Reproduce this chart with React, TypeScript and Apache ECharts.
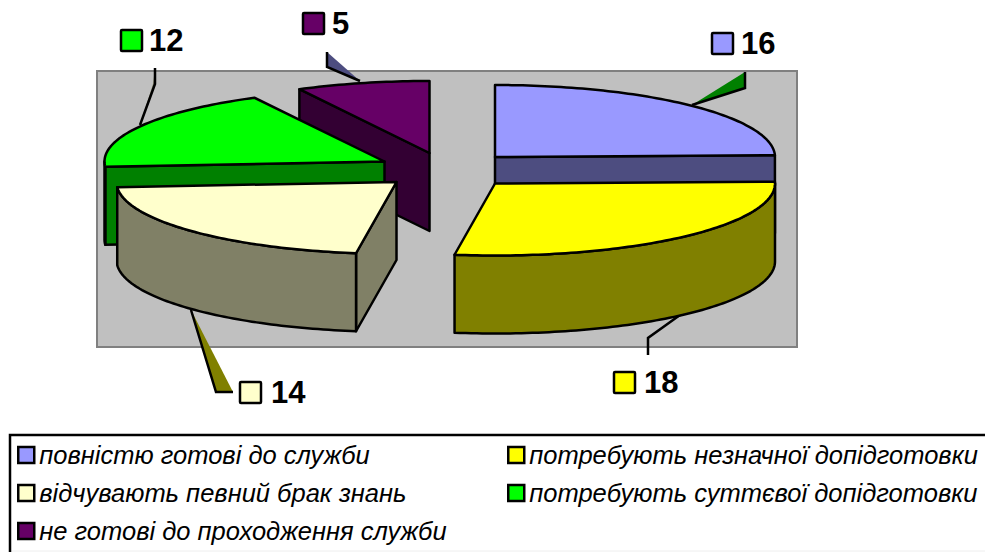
import React, { useEffect, useRef } from "react";
import * as echarts from "echarts";

const categories = [
  "повністю готові до служби",
  "потребують незначної допідготовки",
  "відчувають певний брак знань",
  "потребують суттєвої допідготовки",
  "не готові до проходження служби",
];
const values = [16, 18, 14, 12, 5];
const topColors = ["#9999FF", "#FFFF00", "#FFFFCC", "#00FF00", "#660066"];
const sideColors = ["#4D4D80", "#808000", "#808066", "#008000", "#330033"];

// layout only
const RX = 280, RY = 72, DEPTH = 78;
const centers = [[495, 157], [495, 183.5], [396.5, 182], [384.5, 161.5], [429.5, 153]];
const zOrder = [4, 5, 6, 3, 2];
const swatches = [[712, 33], [614, 372], [240, 382], [121, 30], [303, 13]];
const labelX = [741, 644, 271, 149, 332];
const leaderFill = [
  { fill: "#008000", pts: [[692, 105], [745, 72], [745, 88]], line: [[692, 105], [745, 88], [745, 72]] },
  { fill: "none", pts: [[680, 315], [648, 338], [648, 355]], line: [[680, 315], [648, 338], [648, 355]] },
  { fill: "#808000", pts: [[191, 310], [233, 392], [216, 392]], line: [[191, 310], [216, 392], [233, 392]] },
  { fill: "#808066", pts: [[155, 68], [155, 84], [140, 125], [153, 84]], line: [[155, 68], [155, 84], [140, 125]] },
  { fill: "#4D4D80", pts: [[327, 52], [360, 81], [327, 67]], line: [[327, 52], [327, 67], [360, 81]] },
];
const FONT = "'Liberation Sans', Arial, sans-serif";

const total = values.reduce((a, b) => a + b, 0);
const startAngles: number[] = [];
values.reduce((acc, v, i) => {
  startAngles[i] = (acc / total) * Math.PI * 2;
  return acc + v;
}, 0);

function pt(i: number, a: number, dy = 0): number[] {
  const [cx, cy] = centers[i];
  return [cx + RX * Math.sin(a), cy - RY * Math.cos(a) + dy];
}
function arc(i: number, a0: number, a1: number, dy = 0): number[][] {
  const n = Math.max(2, Math.ceil(Math.abs(a1 - a0) / 0.02));
  const out: number[][] = [];
  for (let k = 0; k <= n; k++) out.push(pt(i, a0 + ((a1 - a0) * k) / n, dy));
  return out;
}

function makeRenderItem(i: number) {
  return (_params: any, api: any) => {
    const value = api.value(0);
    const a0 = startAngles[i];
    const a1 = a0 + (value / total) * Math.PI * 2;
    const [cx, cy] = centers[i];
    const edge = { stroke: "#000", lineWidth: 2.5, lineJoin: "round" };
    const children: any[] = [];

    const ld = leaderFill[i];
    children.push({ type: "polygon", shape: { points: ld.pts }, style: { fill: ld.fill } });
    children.push({ type: "polyline", shape: { points: ld.line }, style: { stroke: "#000", lineWidth: 2.5, fill: "none" } });

    const cut = (a: number) => {
      const p = pt(i, a);
      children.push({
        type: "polygon",
        shape: { points: [[cx, cy], p, [p[0], p[1] + DEPTH], [cx, cy + DEPTH]] },
        style: { fill: sideColors[i], ...edge },
      });
    };
    if (-Math.sin(a0) > 0.01) cut(a0);
    if (Math.sin(a1) > 0.01) cut(a1);

    const f0 = Math.max(a0, Math.PI / 2);
    const f1 = Math.min(a1, (3 * Math.PI) / 2);
    if (f1 > f0) {
      const top = arc(i, f0, f1);
      const bottom = arc(i, f1, f0, DEPTH);
      children.push({
        type: "polygon",
        shape: { points: [...top, ...bottom] },
        style: { fill: sideColors[i], ...edge },
      });
    }
    children.push({
      type: "polygon",
      shape: { points: [[cx, cy], ...arc(i, a0, a1)] },
      style: { fill: topColors[i], ...edge },
    });

    const [sx, sy] = swatches[i];
    children.push({
      type: "rect",
      shape: { x: sx, y: sy, width: 21, height: 21, r: 1 },
      style: { fill: topColors[i], stroke: "#000", lineWidth: 2.5 },
    });
    children.push({
      type: "text",
      style: {
        text: String(value),
        x: labelX[i],
        y: sy + 10,
        fill: "#000",
        fontFamily: FONT,
        fontSize: 31,
        fontWeight: "bold",
        verticalAlign: "middle",
        align: "left",
      },
    });
    return { type: "group", children };
  };
}

const legendText = {
  fontFamily: FONT,
  fontSize: 25.5,
  fontStyle: "italic",
  color: "#000",
};
const legendCommon = {
  orient: "vertical",
  icon: "rect",
  itemWidth: 16,
  itemHeight: 16,
  itemGap: 12,
  padding: 0,
  selectedMode: false,
  textStyle: legendText,
  itemStyle: { borderColor: "#000", borderWidth: 2.5 },
};

export default function App() {
  const ref = useRef<HTMLDivElement>(null);
  useEffect(() => {
    const chart = echarts.init(ref.current!, null, { renderer: "svg" });
    chart.setOption({
      animation: false,
      backgroundColor: "#fff",
      legend: [
        { ...legendCommon, left: 17, top: 442, data: [categories[0], categories[2], categories[4]] },
        { ...legendCommon, left: 507, top: 442, data: [categories[1], categories[3]] },
      ],
      graphic: [
        {
          type: "rect",
          z: 0,
          shape: { x: 97, y: 71, width: 700, height: 276 },
          style: { fill: "#C0C0C0", stroke: "#808080", lineWidth: 2 },
        },
        {
          type: "line",
          z: 0,
          shape: { x1: 10, y1: 551, x2: 985, y2: 551 },
          style: { stroke: "#EEEEEE", lineWidth: 1 },
        },
        {
          type: "polyline",
          z: 0,
          shape: { points: [[10, 552], [10, 435], [990, 435]] },
          style: { fill: "none", stroke: "#000", lineWidth: 2.5 },
        },
      ],
      series: categories.map((name, i) => ({
        type: "custom",
        name,
        coordinateSystem: "none",
        z: zOrder[i],
        clip: false,
        silent: true,
        itemStyle: { color: topColors[i] },
        data: [[values[i]]],
        renderItem: makeRenderItem(i),
      })),
    });
    return () => chart.dispose();
  }, []);
  return (
    <div
      ref={ref}
      style={{ position: "absolute", left: 0, top: 0, width: 985, height: 552 }}
    />
  );
}
